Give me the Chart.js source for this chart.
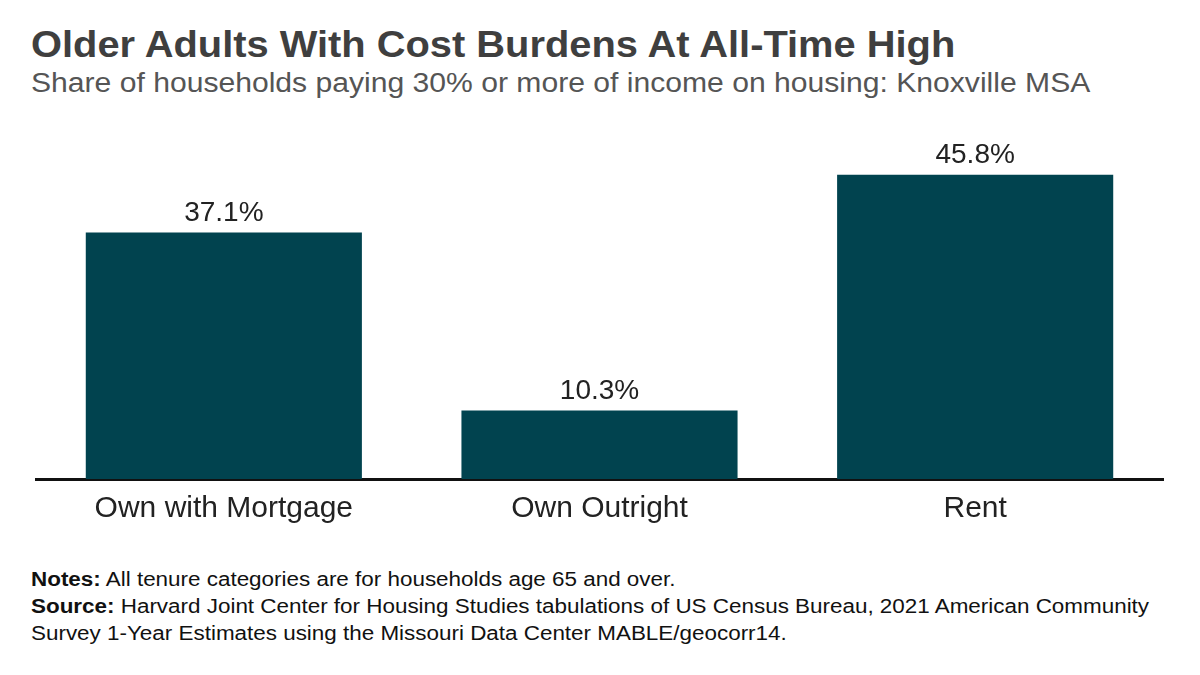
<!DOCTYPE html>
<html>
<head>
<meta charset="utf-8">
<script src="https://cdn.jsdelivr.net/npm/chart.js@4"></script>
<style>
  html, body { margin: 0; padding: 0; background: #fff; }
  body { width: 1200px; height: 675px; position: relative; overflow: hidden;
         font-family: "Liberation Sans", Arial, Helvetica, sans-serif; }
  .txt { position: absolute; left: 31px; white-space: nowrap; transform-origin: left top; }
  #title { top: 24px; font-size: 37px; font-weight: bold; color: #3f3f3f; transform: scaleX(1.077); }
  #subtitle { top: 68px; font-size: 27px; color: #555; transform: scaleX(1.115); }
  #chart-box { position: absolute; left: 0; top: 120px; width: 1200px; height: 419px; }
  #notes { top: 566px; font-size: 19.5px; line-height: 27px; color: #111; transform: scaleX(1.15); }
</style>
</head>
<body>
<div id="title" class="txt">Older Adults With Cost Burdens At All-Time High</div>
<div id="subtitle" class="txt">Share of households paying 30% or more of income on housing: Knoxville MSA</div>
<div id="chart-box"><canvas id="chart"></canvas></div>
<div id="notes" class="txt">
  <b>Notes:</b> All tenure categories are for households age 65 and over.<br>
  <b>Source:</b> Harvard Joint Center for Housing Studies tabulations of US Census Bureau, 2021 American Community<br>
  Survey 1-Year Estimates using the Missouri Data Center MABLE/geocorr14.
</div>
<script>
const categories = ['Own with Mortgage', 'Own Outright', 'Rent'];
const shares = [37.1, 10.3, 45.8];

const barColor = '#01434f';

// value labels above each bar
const valueLabels = {
    id: 'valueLabels',
    afterDatasetsDraw(chart) {
        const ctx = chart.ctx;
        const meta = chart.getDatasetMeta(0);
        ctx.save();
        ctx.font = '28px "Liberation Sans", Arial, sans-serif';
        ctx.fillStyle = '#222';
        ctx.textAlign = 'center';
        ctx.textBaseline = 'alphabetic';
        meta.data.forEach((bar, i) => {
            ctx.fillText(shares[i].toFixed(1) + '%', bar.x, bar.y - 12);
        });
        ctx.restore();
    }
};

let chart = new Chart(document.getElementById('chart'), {
    type: 'bar',
    data: {
        labels: categories,
        datasets: [{
            data: shares,
            backgroundColor: barColor,
            categoryPercentage: 0.735,
            barPercentage: 1.0
        }]
    },
    options: {
        responsive: true,
        maintainAspectRatio: false,
        animation: false,
        layout: { padding: { left: 36, right: 37, top: 11, bottom: 0 } },
        plugins: {
            legend: { display: false },
            tooltip: { enabled: false }
        },
        scales: {
            x: {
                grid: { display: false, drawTicks: false },
                border: { display: true, color: '#111', width: 3 },
                ticks: {
                    color: '#222',
                    padding: 12,
                    font: { size: 30, family: '"Liberation Sans", Arial, sans-serif' }
                }
            },
            y: {
                display: false,
                min: 0,
                max: 52.4
            }
        }
    },
    plugins: [valueLabels]
});
</script>
</body>
</html>
